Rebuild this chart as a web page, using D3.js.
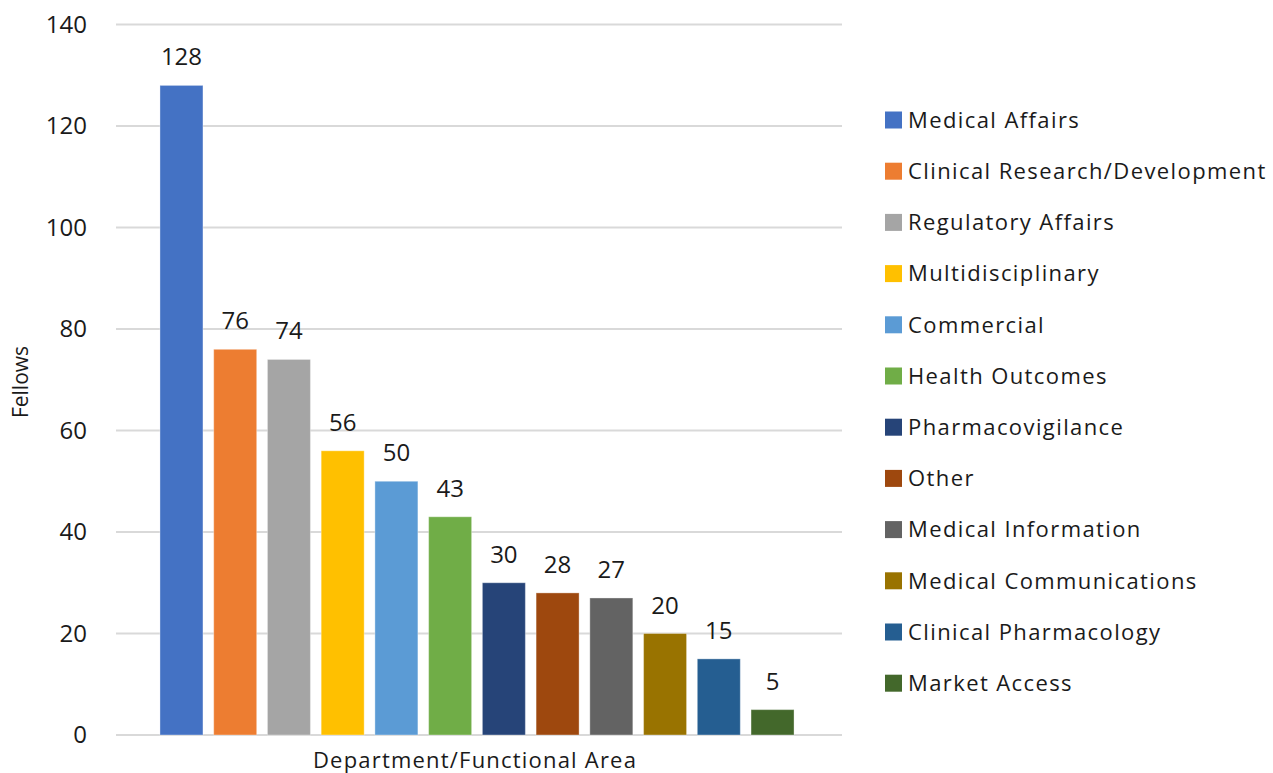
<!DOCTYPE html>
<html>
<head>
<meta charset="utf-8">
<script src="https://cdn.jsdelivr.net/npm/d3@7"></script>
<style>
  html, body { margin: 0; padding: 0; background: #fff; }
  text { font-family: "Open Sans", Lato, sans-serif; fill: #1a1a1a; }
</style>
</head>
<body>
<svg id="chart" width="1273" height="773"></svg>
<script>
const areas = [
  "Medical Affairs", "Clinical Research/Development", "Regulatory Affairs",
  "Multidisciplinary", "Commercial", "Health Outcomes", "Pharmacovigilance",
  "Other", "Medical Information", "Medical Communications",
  "Clinical Pharmacology", "Market Access"
]
const fellows = [128, 76, 74, 56, 50, 43, 30, 28, 27, 20, 15, 5]
const colors = [
  "#4472C4", "#ED7D31", "#A5A5A5", "#FFC000", "#5B9BD5", "#70AD47",
  "#264478", "#9E480E", "#636363", "#997300", "#255E91", "#43682B"
]
const yTicks = [0, 20, 40, 60, 80, 100, 120, 140]

const svg = d3.select("#chart")

const x = d3.scaleBand()
  .domain(areas)
  .range([154.6, 799.4])
  .paddingInner(0.2)
  .paddingOuter(0.1)

const y = d3.scaleLinear()
  .domain([0, 140])
  .range([735, 24.5])

const color = d3.scaleOrdinal().domain(areas).range(colors)

// gridlines
svg.append("g")
  .selectAll("line")
  .data(yTicks)
  .join("line")
  .attr("x1", 116)
  .attr("x2", 842)
  .attr("y1", d => y(d))
  .attr("y2", d => y(d))
  .attr("stroke", "#d9d9d9")
  .attr("stroke-width", 2)

// y tick labels
svg.append("g")
  .selectAll("text")
  .data(yTicks)
  .join("text")
  .attr("x", 87)
  .attr("y", d => y(d))
  .attr("dy", "0.35em")
  .attr("text-anchor", "end")
  .attr("font-size", 24)
  .text(d => d)

const data = areas.map((a, i) => ({ area: a, value: fellows[i] }))

// bars
svg.append("g")
  .selectAll("rect")
  .data(data)
  .join("rect")
  .attr("x", d => x(d.area))
  .attr("y", d => y(d.value))
  .attr("width", x.bandwidth())
  .attr("height", d => y(0) - y(d.value))
  .attr("fill", d => color(d.area))
  .attr("stroke", "#ffffff")
  .attr("stroke-opacity", 0.35)
  .attr("stroke-width", 1)

// value labels
svg.append("g")
  .selectAll("text")
  .data(data)
  .join("text")
  .attr("x", d => x(d.area) + x.bandwidth() / 2)
  .attr("y", d => y(d.value) - 20)
  .attr("text-anchor", "middle")
  .attr("font-size", 24)
  .text(d => d.value)

// axis titles
svg.append("text")
  .attr("x", 475)
  .attr("y", 768)
  .attr("text-anchor", "middle")
  .attr("font-size", 22)
  .attr("letter-spacing", 1.2)
  .text("Department/Functional Area")

svg.append("text")
  .attr("transform", "translate(28,382) rotate(-90)")
  .attr("text-anchor", "middle")
  .attr("font-size", 21)
  .text("Fellows")

// legend
const legend = svg.append("g")
  .selectAll("g")
  .data(areas)
  .join("g")
  .attr("transform", (d, i) => `translate(885,${120 + i * 51.2})`)

legend.append("rect")
  .attr("x", 0)
  .attr("y", -8.5)
  .attr("width", 17)
  .attr("height", 17)
  .attr("fill", d => color(d))

legend.append("text")
  .attr("x", 23)
  .attr("y", 0)
  .attr("dy", "0.35em")
  .attr("font-size", 22)
  .attr("letter-spacing", 1.4)
  .text(d => d)
</script>
</body>
</html>
